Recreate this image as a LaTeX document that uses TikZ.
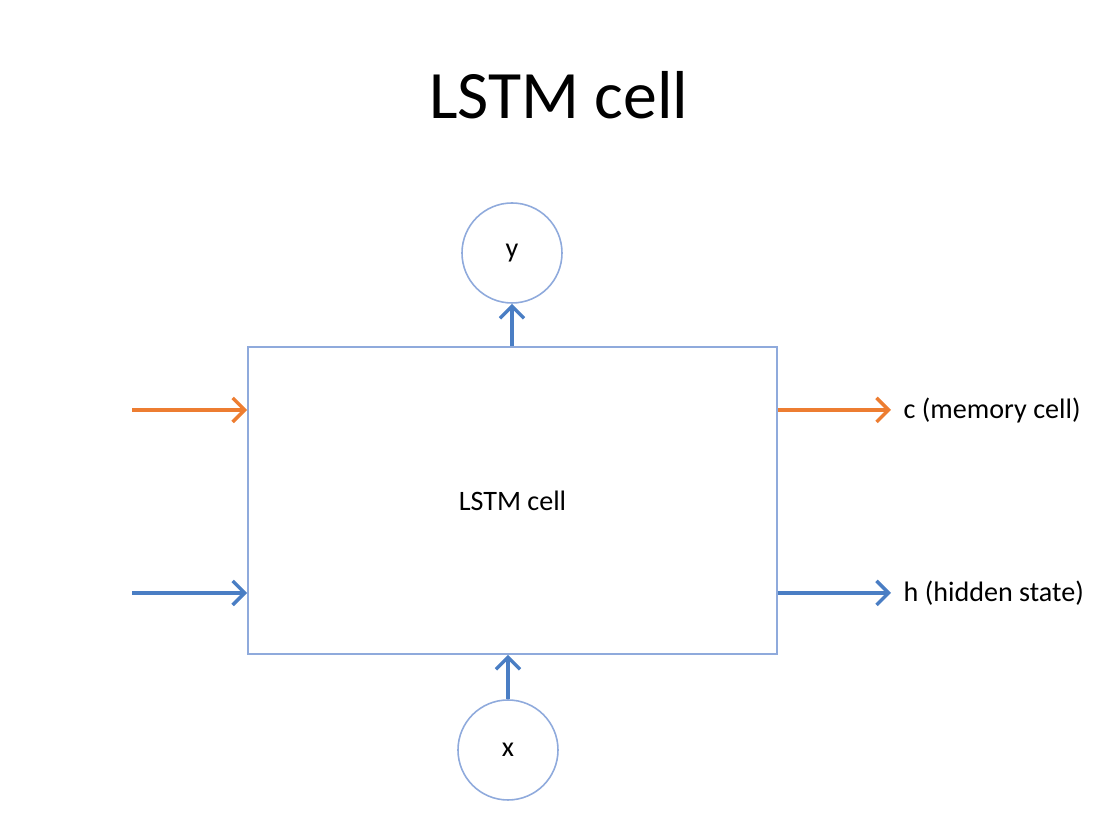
\documentclass[tikz,border=0pt]{standalone}
\usepackage{fontspec}
\setmainfont{Carlito}
\usetikzlibrary{arrows.meta,positioning}
\definecolor{cellorange}{RGB}{237,125,49}
\definecolor{cellblue}{RGB}{74,126,196}
\definecolor{edgeblue}{RGB}{143,170,220}
\tikzset{
  cellbox/.style={draw=edgeblue,line width=0.45pt,minimum width=5.29cm,minimum height=3.07cm,font=\fontsize{8}{10}\selectfont},
  unit/.style={draw=edgeblue,line width=0.45pt,circle,minimum size=1cm,inner sep=0pt,font=\fontsize{8}{10}\selectfont},
  outlabel/.style={anchor=west,inner sep=0.12cm,font=\fontsize{8}{10}\selectfont},
  flow/.style={line width=0.95pt,-{Straight Barb[length=1.2mm,width=2.4mm,line width=1pt]}},
  memflow/.style={flow,draw=cellorange},
  hidflow/.style={flow,draw=cellblue}
}
\begin{document}
\begin{tikzpicture}
\useasboundingbox (0,0) rectangle (11.16,8.29);
\node (title) at (5.59,7.34) {\fontsize{19.3}{23}\selectfont LSTM cell};
\node[cellbox] (cell) at (5.125,3.285) {LSTM cell};
\node[unit] (y) at (5.12,5.76) {y};
\node[unit] (x) at (5.08,0.79) {x};

% inputs from the left
\coordinate (c_in) at (1.32,4.19);
\coordinate (h_in) at (1.32,2.36);
\draw[memflow] (c_in) -- (c_in -| cell.west);
\draw[hidflow] (h_in) -- (h_in -| cell.west);

% outputs to the right
\node[outlabel] (c_out) at (8.91,4.19) {c (memory cell)};
\node[outlabel] (h_out) at (8.91,2.36) {h (hidden state)};
\draw[memflow] (c_out -| cell.east) -- (c_out.west);
\draw[hidflow] (h_out -| cell.east) -- (h_out.west);

\draw[hidflow] (y |- cell.north) -- (y.south);
\draw[hidflow] (x.north) -- (x.north |- cell.south);
\end{tikzpicture}
\end{document}
